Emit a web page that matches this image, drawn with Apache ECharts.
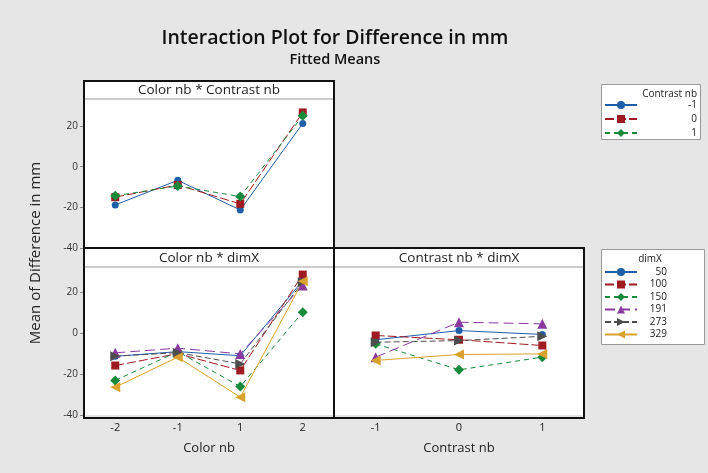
<!DOCTYPE html>
<html>
<head>
<meta charset="utf-8">
<script src="https://cdn.jsdelivr.net/npm/echarts@6/dist/echarts.min.js"></script>
<style>
html, body { margin: 0; padding: 0; background: #e6e6e6; }
#chart { width: 708px; height: 473px; }
</style>
</head>
<body>
<div id="chart"></div>
<script>
// categories
var colorNb = ['-2', '-1', '1', '2'];
var contrastNb = ['-1', '0', '1'];
var contrastLevels = ['-1', '0', '1'];
var dimXLevels = ['50', '100', '150', '191', '273', '329'];
var yTicks = [-40, -20, 0, 20];

// Color nb * Contrast nb (one row per Contrast nb level)
var colorByContrast = [
    [-18.8, -6.7, -21.3, 21.3],
    [-15.0, -9.0, -18.3, 26.7],
    [-14.3, -9.5, -14.7, 25.0]
];

// Color nb * dimX (one row per dimX level)
var colorByDim = [
    [-11.3, -9.0, -11.0, 25.8],
    [-15.8, -10.0, -18.2, 28.7],
    [-23.1, -9.0, -26.1, 10.3],
    [-9.6, -7.3, -10.1, 23.3],
    [-11.2, -9.5, -15.0, 25.0],
    [-26.4, -11.7, -31.3, 25.4]
];

// Contrast nb * dimX (one row per dimX level)
var contrastByDim = [
    [-3.2, 1.3, -0.6],
    [-1.1, -3.2, -6.0],
    [-5.2, -17.9, -11.7],
    [-11.7, 5.4, 4.6],
    [-4.4, -3.6, -1.5],
    [-13.3, -10.4, -10.1]
];

var styles = [
    { color: '#1f5ea8', symbol: 'circle', size: 7, rotate: 0, dash: 'solid' },
    { color: '#9e1b22', symbol: 'rect', size: 8, rotate: 0, dash: [9, 3] },
    { color: '#178a3c', symbol: 'diamond', size: 10, rotate: 0, dash: [5, 4] },
    { color: '#8a3a9e', symbol: 'triangle', size: 10, rotate: 0, dash: [10, 5] },
    { color: '#4d4d4d', symbol: 'triangle', size: 10, rotate: -90, dash: [6, 3] },
    { color: '#d9a22e', symbol: 'triangle', size: 10, rotate: 90, dash: 'solid' }
];

var font = '"Open Sans", "Noto Sans", sans-serif';

function makeSeries(name, values, st, idx) {
    return {
        type: 'line',
        name: name,
        data: values,
        xAxisIndex: idx,
        yAxisIndex: idx,
        symbol: st.symbol,
        symbolSize: st.size,
        symbolRotate: st.rotate,
        showAllSymbol: true,
        lineStyle: { color: st.color, width: 1, type: st.dash },
        itemStyle: { color: st.color },
        emphasis: { disabled: true },
        animation: false,
        z: 3
    };
}

var series = [];
contrastLevels.forEach(function (lv, i) {
    series.push(makeSeries(lv, colorByContrast[i], styles[i], 0));
});
dimXLevels.forEach(function (lv, i) {
    series.push(makeSeries(lv, colorByDim[i], styles[i], 1));
});
dimXLevels.forEach(function (lv, i) {
    series.push(makeSeries(lv, contrastByDim[i], styles[i], 2));
});

function yAxis(idx, min, max, showLabels) {
    return {
        type: 'value',
        gridIndex: idx,
        min: min,
        max: max,
        axisLine: { show: false },
        splitLine: { show: false },
        axisTick: { show: showLabels, length: 4, lineStyle: { color: '#888' }, customValues: yTicks },
        axisLabel: { show: showLabels, customValues: yTicks, fontSize: 10, color: '#333', margin: 6, fontFamily: font }
    };
}

function xAxis(idx, cats, name, showLabels) {
    return {
        type: 'category',
        gridIndex: idx,
        data: cats,
        boundaryGap: true,
        name: name,
        nameLocation: 'middle',
        nameGap: 27,
        nameTextStyle: { fontSize: 13, color: '#222', fontFamily: font },
        axisLine: { show: false },
        axisTick: { show: false },
        axisLabel: { show: showLabels, fontSize: 11, color: '#222', margin: 7, fontFamily: font }
    };
}

function header(x, y, w, text) {
    return [
        { type: 'rect', shape: { x: x, y: y, width: w, height: 18 }, style: { fill: '#fff', stroke: null }, z: 1 },
        { type: 'line', shape: { x1: x, y1: y + 18, x2: x + w, y2: y + 18 }, style: { stroke: '#999', lineWidth: 1 }, z: 2 },
        { type: 'text', x: x + w / 2, y: y + 9, style: { text: text, font: '13.5px ' + font, fill: '#222', textAlign: 'center', textVerticalAlign: 'middle' }, z: 3 }
    ];
}

function box(x, y, w, h) {
    return { type: 'rect', shape: { x: x, y: y, width: w, height: h }, style: { fill: null, stroke: '#111', lineWidth: 2 }, z: 10 };
}

var graphics = [].concat(
    header(84, 81, 250, 'Color nb * Contrast nb'),
    header(84, 249, 250, 'Color nb * dimX'),
    header(334, 249, 250, 'Contrast nb * dimX'),
    [
        box(84, 81, 250, 167),
        box(84, 248, 250, 170),
        box(334, 248, 250, 170),
        { type: 'text', x: 335, y: 38, style: { text: 'Interaction Plot for Difference in mm', font: '600 19.5px ' + font, fill: '#111', textAlign: 'center', textVerticalAlign: 'middle' } },
        { type: 'text', x: 335, y: 60, style: { text: 'Fitted Means', font: '600 14.5px ' + font, fill: '#111', textAlign: 'center', textVerticalAlign: 'middle' } },
        { type: 'text', x: 36, y: 253, rotation: Math.PI / 2, style: { text: 'Mean of Difference in mm', font: '15px ' + font, fill: '#222', textAlign: 'center', textVerticalAlign: 'middle' } },
        { type: 'rect', shape: { x: 601.5, y: 84.5, width: 99, height: 55 }, style: { fill: '#fff', stroke: '#999', lineWidth: 1 }, z: 0 },
        { type: 'text', x: 697, y: 94, style: { text: 'Contrast nb', font: '10px ' + font, fill: '#222', textAlign: 'right', textVerticalAlign: 'middle' }, z: 5 },
        { type: 'rect', shape: { x: 601.5, y: 249.5, width: 103, height: 95 }, style: { fill: '#fff', stroke: '#999', lineWidth: 1 }, z: 0 },
        { type: 'text', x: 650, y: 259, style: { text: 'dimX', font: '10px ' + font, fill: '#222', textAlign: 'center', textVerticalAlign: 'middle' }, z: 5 }
    ]
);

function legend(levels, top, gap, labelWidth) {
    return {
        data: levels,
        orient: 'vertical',
        left: 604,
        top: top,
        itemWidth: 32,
        itemHeight: 10,
        itemGap: gap,
        padding: 0,
        selectedMode: false,
        formatter: '{a|{name}}',
        textStyle: {
            fontSize: 10, color: '#222', fontFamily: font,
            rich: { a: { width: labelWidth, align: 'right', fontSize: 10, color: '#222', fontFamily: font } }
        }
    };
}

var option = {
    backgroundColor: '#e6e6e6',
    animation: false,
    grid: [
        { left: 84, top: 99, width: 250, height: 149, show: true, backgroundColor: '#fff', borderWidth: 0 },
        { left: 84, top: 267, width: 250, height: 148, show: true, backgroundColor: '#fff', borderWidth: 0 },
        { left: 334, top: 267, width: 250, height: 148, show: true, backgroundColor: '#fff', borderWidth: 0 }
    ],
    xAxis: [
        xAxis(0, colorNb, '', false),
        xAxis(1, colorNb, 'Color nb', true),
        xAxis(2, contrastNb, 'Contrast nb', true)
    ],
    yAxis: [
        yAxis(0, -40, 33.3, true),
        yAxis(1, -40, 32.4, true),
        yAxis(2, -40, 32.4, false)
    ],
    legend: [
        legend(contrastLevels, 100, 4, 55),
        legend(dimXLevels, 267, 2.5, 25)
    ],
    graphic: graphics,
    series: series
};

echarts.init(document.getElementById('chart')).setOption(option);
</script>
</body>
</html>
